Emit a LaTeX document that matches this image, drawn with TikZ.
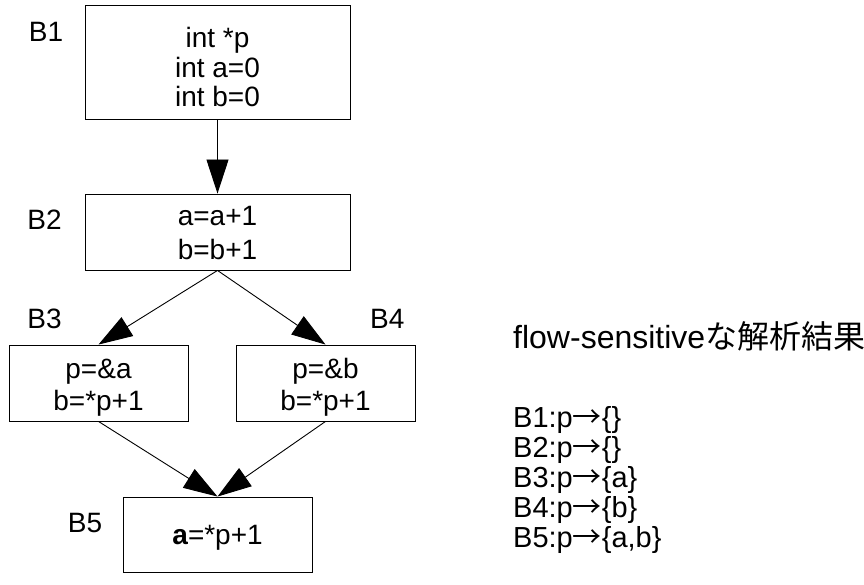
\documentclass[tikz,border=0pt]{standalone}
\usepackage{fontspec}
\setmainfont{Liberation Sans}
\newfontfamily\jp{Noto Sans CJK JP}
\usetikzlibrary{arrows.meta}
\newcommand{\parrow}{{\jp →}}
\begin{document}
\begin{tikzpicture}[x=1pt,y=-1pt,
  blk/.style={draw, line width=0.9pt, inner sep=0pt},
  txt/.style={font=\fontsize{28}{32}\selectfont, inner sep=0pt, anchor=base},
  lst/.style={font=\fontsize{29}{30}\selectfont, inner sep=0pt, anchor=base west},
  arr/.style={-{Triangle[length=34pt,width=22pt]}, line width=0.9pt}]
\useasboundingbox (0,0) rectangle (864,585);
% boxes
\node[blk, minimum width=265pt, minimum height=114pt] (B1) at (217.5,62) {};
\node[blk, minimum width=265pt, minimum height=76pt] (B2) at (217.5,232) {};
\node[blk, minimum width=179pt, minimum height=76pt] (B3) at (98.5,383) {};
\node[blk, minimum width=179pt, minimum height=76pt] (B4) at (325.5,383) {};
\node[blk, minimum width=189pt, minimum height=75pt] (B5) at (217.5,534.5) {};
% box texts
\node[txt] (t11) at (217.5,48) {int *p};
\node[txt] (t12) at (217.5,78) {int a=0};
\node[txt] (t13) at (217.5,107) {int b=0};
\node[txt] (t21) at (217.5,226) {a=a+1};
\node[txt] (t22) at (217.5,259) {b=b+1};
\node[txt] (t31) at (98.5,378) {p=\&a};
\node[txt] (t32) at (98.5,410) {b=*p+1};
\node[txt] (t41) at (325.5,378) {p=\&b};
\node[txt] (t42) at (325.5,410) {b=*p+1};
\node[txt] (t51) at (217.5,544) {\textbf{a}=*p+1};
% labels
\node[txt] (l1) at (46,42) {B1};
\node[txt] (l2) at (44.5,230) {B2};
\node[txt] (l3) at (44.5,328) {B3};
\node[txt] (l4) at (387.3,328) {B4};
\node[txt] (l5) at (85,532) {B5};
% arrows
\draw[arr] (B1.south) -- (B2.north);
\draw[arr] (B2.south) -- (B3.north);
\draw[arr] (B2.south) -- (B4.north);
\draw[arr] (B3.south) -- (B5.north);
\draw[arr] (B4.south) -- (B5.north);
% right side
\node[anchor=base west, inner sep=0pt, font=\fontsize{32}{36}\selectfont] (title) at (513,348) {flow-sensitive{\jp な解析結果}};
\node[lst] (r1) at (513,427) {B1:p\parrow\{\}};
\node[lst] (r2) at (513,457) {B2:p\parrow\{\}};
\node[lst] (r3) at (513,487) {B3:p\parrow\{a\}};
\node[lst] (r4) at (513,517) {B4:p\parrow\{b\}};
\node[lst] (r5) at (513,547) {B5:p\parrow\{a,b\}};
\end{tikzpicture}
\end{document}
